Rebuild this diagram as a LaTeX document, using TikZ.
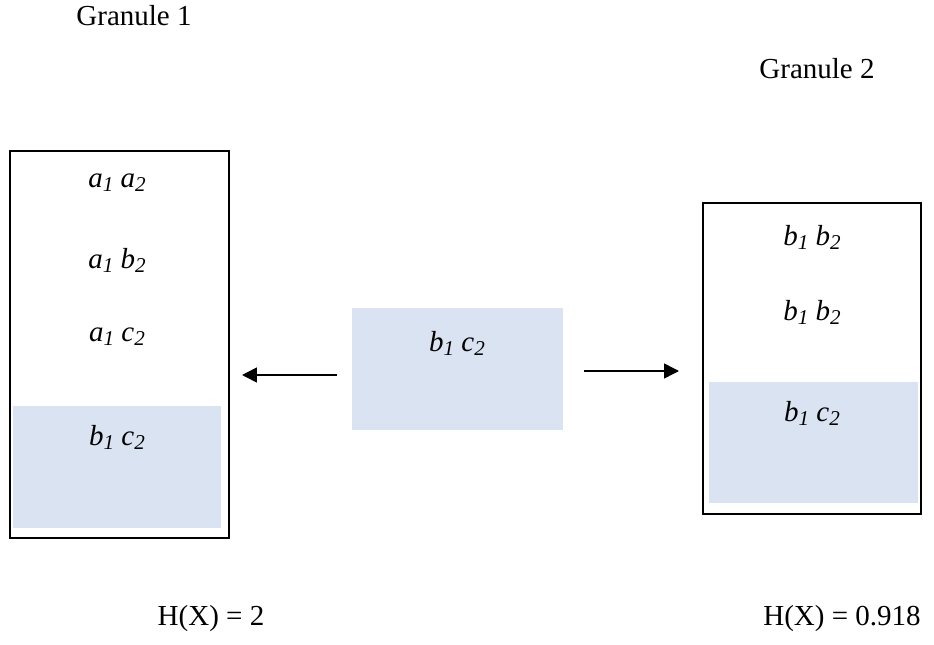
\documentclass[tikz,border=0pt]{standalone}
\usepackage{fontspec}
\setmainfont{Liberation Serif}
\usepackage{tikz}
\usetikzlibrary{arrows.meta,positioning}
\definecolor{granfill}{RGB}{218,227,241}
\tikzset{
  gframe/.style={rectangle, draw=black, line width=1pt, inner sep=0pt},
  gshade/.style={rectangle, fill=granfill, draw=none, inner sep=0pt},
  gitem/.style ={font=\fontsize{16.5}{19}\selectfont\itshape, inner sep=0pt},
  gtitle/.style={font=\fontsize{16.5}{19}\selectfont, inner sep=0pt},
  garrow/.style={-{Triangle[length=3mm,width=3mm]}, line width=0.9pt},
}
% item with two subscripted letters
\newcommand{\sbs}[1]{\raisebox{-0.3ex}{\fontsize{12}{12}\selectfont #1}}
\newcommand{\pair}[4]{#1\sbs{#2} #3\sbs{#4}}

\begin{document}
\begin{tikzpicture}[x=0.02cm,y=-0.02cm]
  \useasboundingbox (0,0) rectangle (934,645);
  % shaded cells first, frames on top
  \node[gshade, minimum width=4.16cm, minimum height=2.44cm] (s1) at (117,467) {};
  \node[gshade, minimum width=4.22cm, minimum height=2.44cm] (mid) at (457.5,369) {};
  \node[gshade, minimum width=4.18cm, minimum height=2.42cm] (s2) at (813.5,442.5) {};
  \node[gframe, minimum width=4.38cm, minimum height=7.74cm] (g1) at (119.5,344.5) {};
  \node[gframe, minimum width=4.36cm, minimum height=6.22cm] (g2) at (812,358.5) {};

  % titles
  \node[gtitle] (t1) at (134,16) {Granule 1};
  \node[gtitle] (t2) at (817,69) {Granule 2};

  % granule 1 items
  \node[gitem] (a1) at (117,183) {\pair{a}{1}{a}{2}};
  \node[gitem] (a2) at (117,260) {\pair{a}{1}{b}{2}};
  \node[gitem] (a3) at (117,337) {\pair{a}{1}{c}{2}};
  \node[gitem] (a4) at (117,437) {\pair{b}{1}{c}{2}};

  % moving item
  \node[gitem] (m1) at (457,343) {\pair{b}{1}{c}{2}};

  % granule 2 items
  \node[gitem] (b1) at (812,237) {\pair{b}{1}{b}{2}};
  \node[gitem] (b2) at (812,312) {\pair{b}{1}{b}{2}};
  \node[gitem] (b3) at (812,413) {\pair{b}{1}{c}{2}};

  % arrows out of the middle
  \coordinate (la) at (337,375);
  \coordinate (lb) at (242,375);
  \coordinate (ra) at (584,371);
  \coordinate (rb) at (679,371);
  \draw[garrow] (la) -- (lb);
  \draw[garrow] (ra) -- (rb);

  % entropies
  \node[gtitle] (h1) at (211,619) {H(X) = 2};
  \node[gtitle] (h2) at (842,619) {H(X) = 0.918};
\end{tikzpicture}
\end{document}
